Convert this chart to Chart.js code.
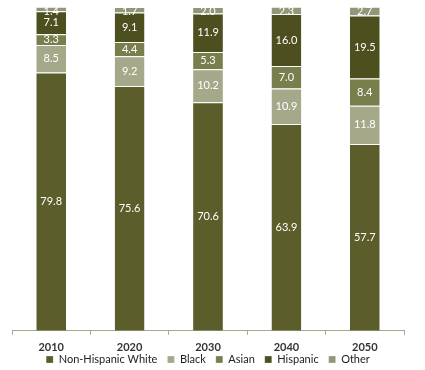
<!DOCTYPE html>
<html>
<head>
<meta charset="utf-8">
<script src="https://cdn.jsdelivr.net/npm/chart.js@4"></script>
<style>
  html, body { margin: 0; padding: 0; background: #fff; }
  #wrap { width: 425px; height: 370px; }
</style>
</head>
<body>
<div id="wrap"><canvas id="chart" width="425" height="370"></canvas></div>
<script>
const years = ['2010', '2020', '2030', '2040', '2050'];
const nonHispanicWhite = [79.8, 75.6, 70.6, 63.9, 57.7];
const black = [8.5, 9.2, 10.2, 10.9, 11.8];
const asian = [3.3, 4.4, 5.3, 7.0, 8.4];
const hispanic = [7.1, 9.1, 11.9, 16.0, 19.5];
const other = [1.4, 1.7, 2.0, 2.3, 2.7];

const groups = [
    { label: 'Non-Hispanic White', data: nonHispanicWhite, color: '#5b5e2a' },
    { label: 'Black', data: black, color: '#a5a98a' },
    { label: 'Asian', data: asian, color: '#7a7d4c' },
    { label: 'Hispanic', data: hispanic, color: '#4d4f1e' },
    { label: 'Other', data: other, color: '#939678' }
];

// white value labels in the middle of each segment
const valueLabels = {
    id: 'valueLabels',
    afterDatasetsDraw(chart) {
        const ctx = chart.ctx;
        ctx.save();
        ctx.font = '11px Lato';
        ctx.fillStyle = '#ffffff';
        ctx.textAlign = 'center';
        ctx.textBaseline = 'middle';
        chart.data.datasets.forEach((ds, i) => {
            chart.getDatasetMeta(i).data.forEach((bar, j) => {
                const mid = (bar.y + bar.base) / 2;
                ctx.fillText(ds.data[j].toFixed(1), bar.x, Math.max(mid, chart.chartArea.top + 4));
            });
        });
        ctx.restore();
    }
};

// pull the legend up tight under the year labels
const legendTuck = {
    id: 'legendTuck',
    afterLayout(chart) {
        const lg = chart.legend;
        lg.top = 344;
        lg.bottom = chart.height;
        lg.height = lg.bottom - lg.top;
    }
};

new Chart(document.getElementById('chart'), {
    type: 'bar',
    data: {
        labels: years,
        datasets: groups.map(g => ({
            label: g.label,
            data: g.data,
            backgroundColor: g.color,
            borderColor: '#ffffff',
            borderWidth: { top: 1, bottom: 0, left: 0, right: 0 },
            borderSkipped: false,
            barPercentage: 0.38,
            categoryPercentage: 1
        }))
    },
    options: {
        responsive: false,
        animation: false,
        layout: { padding: { left: 12, right: 21, top: 7, bottom: 4 } },
        plugins: {
            tooltip: { enabled: false },
            legend: {
                position: 'bottom',
                maxHeight: 6,
                labels: {
                    boxWidth: 7,
                    boxHeight: 7,
                    padding: 10,
                    color: '#222',
                    font: { family: 'Lato', size: 11 }
                }
            }
        },
        scales: {
            x: {
                stacked: true,
                border: { color: '#a8a88c', width: 1 },
                grid: { drawOnChartArea: false, tickLength: 4, color: '#a8a88c' },
                ticks: { color: '#333', padding: 6, font: { family: 'Lato', size: 11, weight: 'bold' } }
            },
            y: {
                stacked: true,
                display: false,
                min: 0,
                max: 100
            }
        }
    },
    plugins: [valueLabels, legendTuck]
});
</script>
</body>
</html>
